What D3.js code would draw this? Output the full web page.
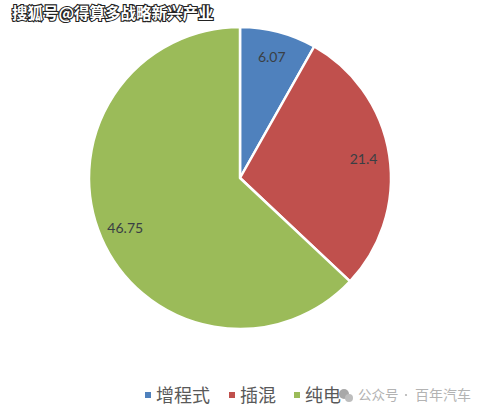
<!DOCTYPE html>
<html><head><meta charset="utf-8">
<script src="https://cdn.jsdelivr.net/npm/d3@7"></script>
<style>html,body{margin:0;padding:0;background:#fff;}svg{display:block;}</style>
</head><body>
<script>
const categories = ["增程式", "插混", "纯电"];
const values = [6.07, 21.4, 46.75];
const colors = ["#4F81BD", "#C0504D", "#9BBB59"];
const labelTexts = ["6.07", "21.4", "46.75"];

const W = 486, H = 414;
const svg = d3.select("body").append("svg").attr("width", W).attr("height", H);
const cx = 240, cy = 178, R = 151;

const pie = d3.pie().sort(null).value(d => d)(values);
const arc = d3.arc().innerRadius(0).outerRadius(R);
const labelArc = d3.arc().innerRadius(125).outerRadius(125);
const color = d3.scaleOrdinal().domain(categories).range(colors);

const g = svg.append("g").attr("transform", `translate(${cx},${cy})`);
g.selectAll("path").data(pie).join("path")
  .attr("d", arc)
  .attr("fill", (d, i) => color(categories[i]))
  .attr("stroke", "#fff").attr("stroke-width", 2.5).attr("stroke-linejoin", "round");

g.selectAll("text").data(pie).join("text")
  .attr("transform", d => `translate(${labelArc.centroid(d)})`)
  .attr("text-anchor", "middle").attr("dy", "0.35em")
  .attr("font-family", "Lato, 'Open Sans', sans-serif").attr("font-size", 14)
  .attr("fill", "#3a3f44")
  .text((d, i) => labelTexts[i]);

// legend
const legendX = [145, 229, 294];
const lg = svg.append("g");
categories.forEach((c, i) => {
  lg.append("rect").attr("x", legendX[i]).attr("y", 392).attr("width", 6).attr("height", 6)
    .attr("fill", color(c));
  lg.append("text").attr("x", legendX[i] + 11).attr("y", 401.5)
    .attr("font-family", "'Noto Sans CJK SC', sans-serif").attr("font-size", 18)
    .attr("fill", "#595959").text(c);
});

// watermark icon + text
const wm = svg.append("g");
wm.append("circle").attr("cx", 344).attr("cy", 394).attr("r", 5).attr("fill", "#a8a8a8");
wm.append("circle").attr("cx", 349).attr("cy", 398).attr("r", 4).attr("fill", "#bdbdbd");
const wmFont = "'Noto Sans CJK SC', sans-serif";
wm.append("text").attr("x", 358).attr("y", 400).attr("font-family", wmFont).attr("font-size", 13.5)
  .attr("fill", "#b3b3b3").text("公众号");
wm.append("circle").attr("cx", 406).attr("cy", 395).attr("r", 1.1).attr("fill", "#b3b3b3");
wm.append("text").attr("x", 415).attr("y", 400).attr("font-family", wmFont).attr("font-size", 14)
  .attr("fill", "#b3b3b3").text("百年汽车");

// top-left watermark
svg.append("text").attr("x", 12).attr("y", 19)
  .attr("font-family", "'Noto Sans CJK SC', sans-serif").attr("font-size", 15.5).attr("font-weight", 700)
  .attr("fill", "#fff").attr("stroke", "#222").attr("stroke-width", 2.2).attr("paint-order", "stroke")
  .text("搜狐号@得算多战略新兴产业");
</script>
</body></html>
